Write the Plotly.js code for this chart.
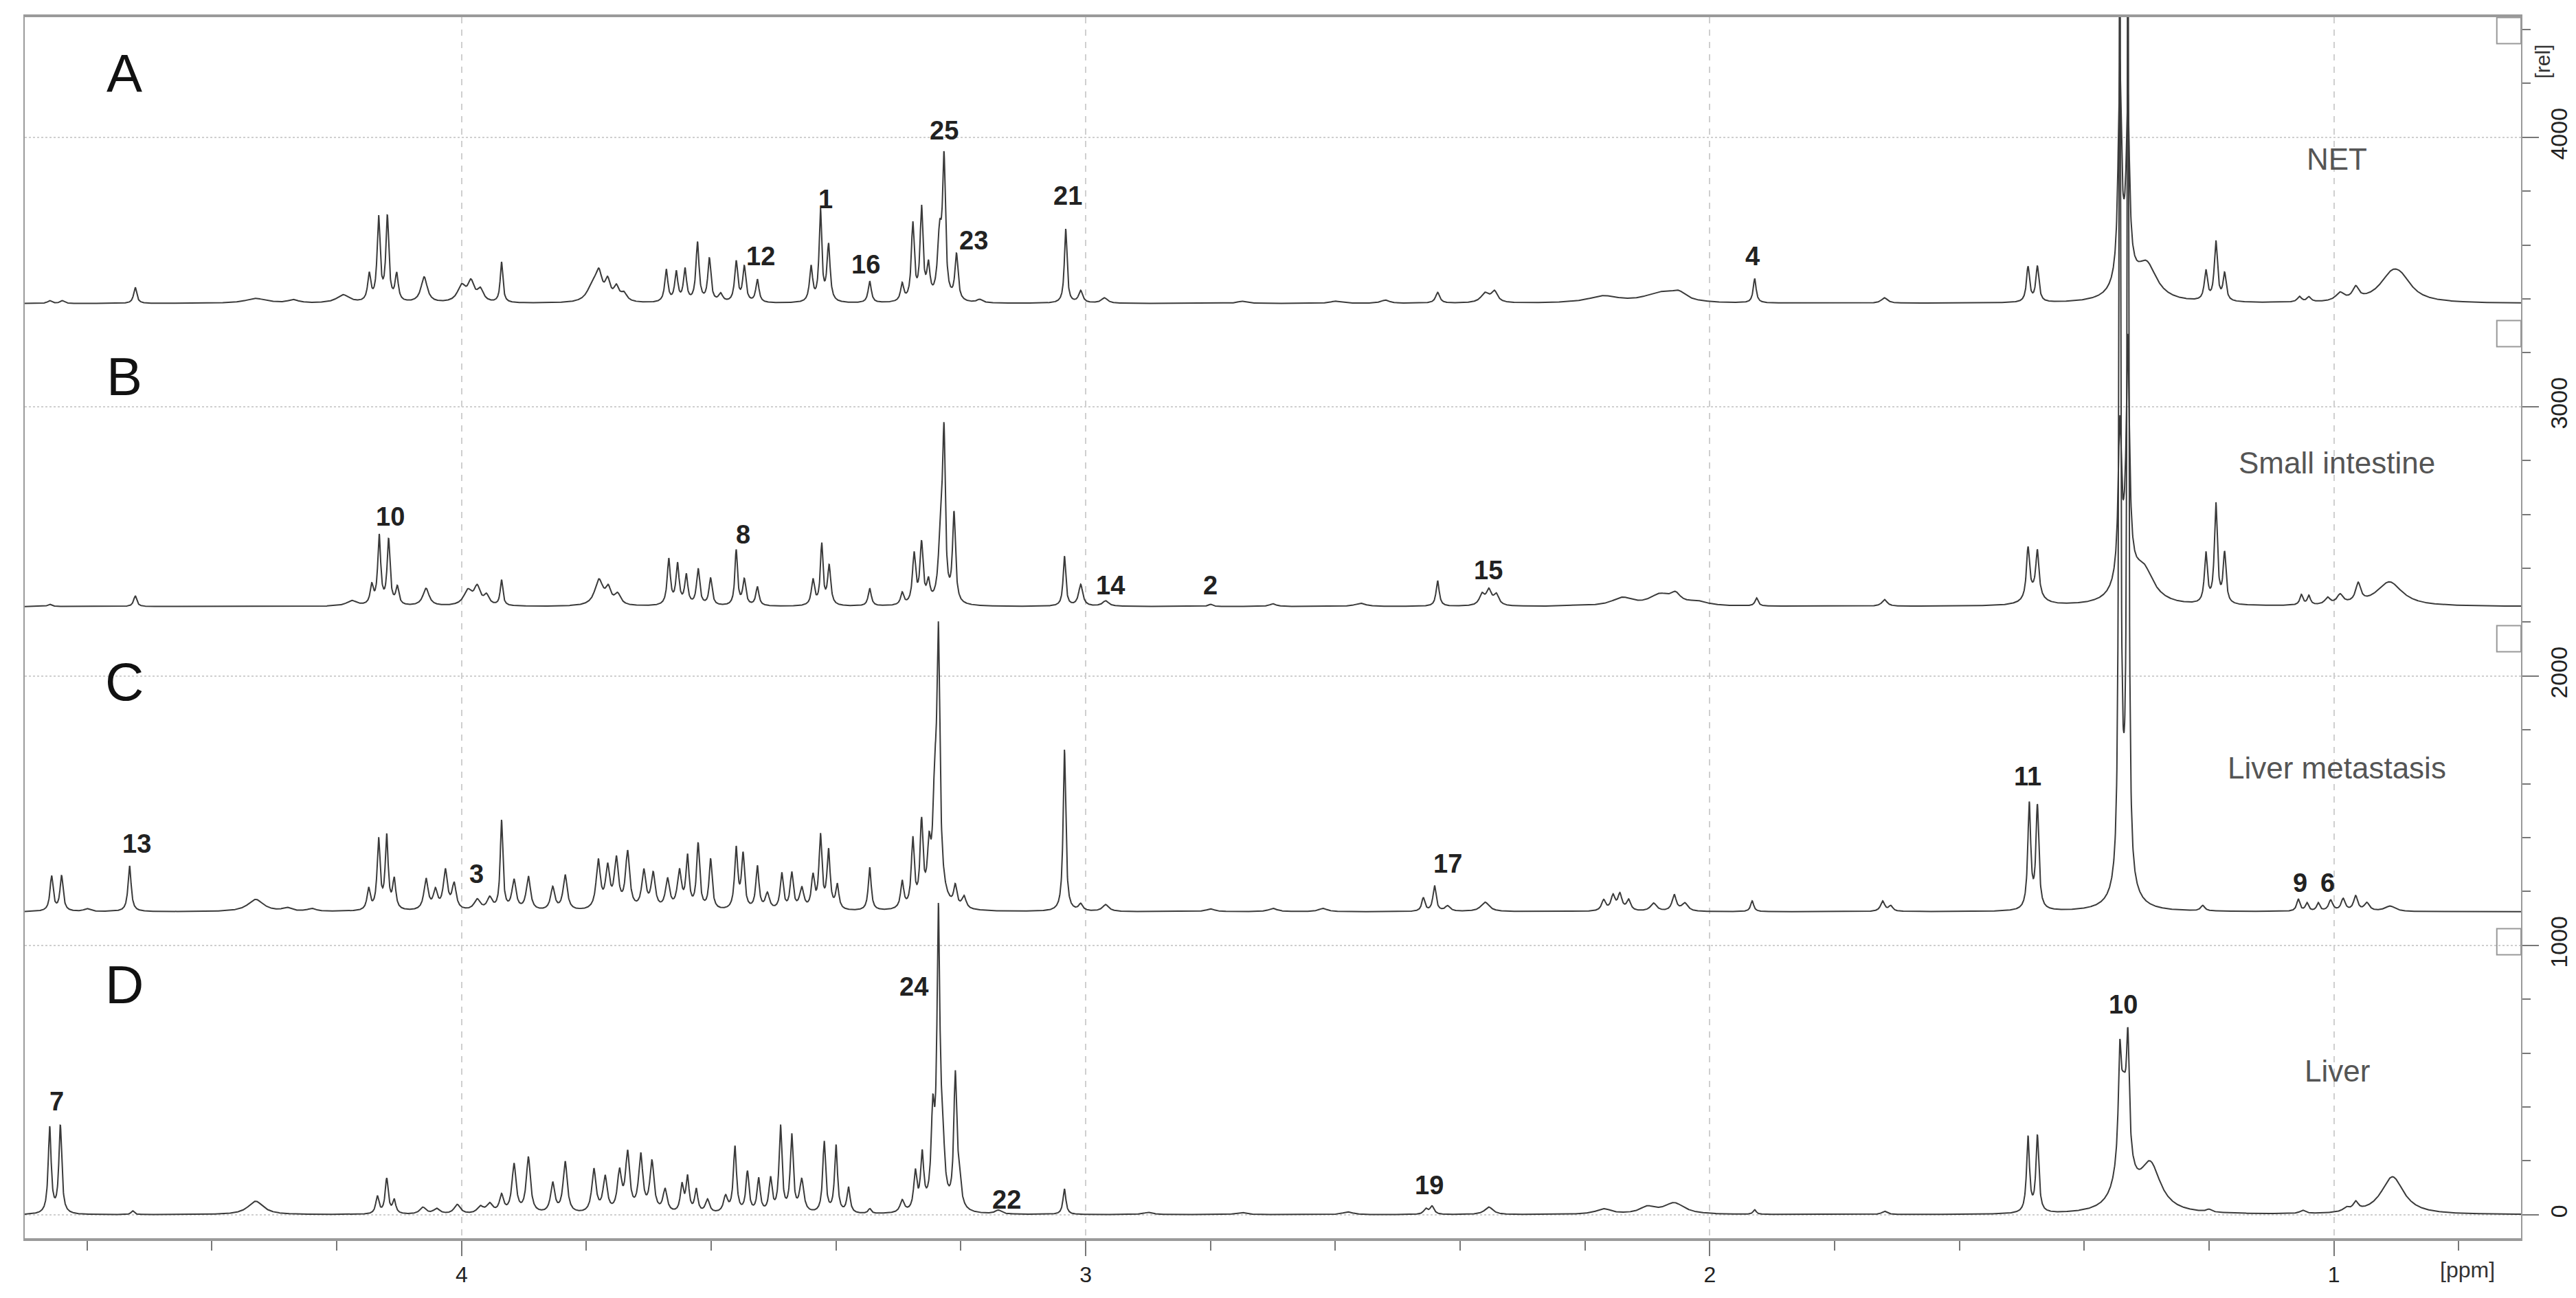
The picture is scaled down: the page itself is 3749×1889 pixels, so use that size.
<!DOCTYPE html>
<html>
<head>
<meta charset="utf-8">
<script src="https://cdn.plot.ly/plotly-3.0.1.min.js"></script>
<style>
  html, body { margin: 0; padding: 0; background: #fff; }
  #nmr { width: 3749px; height: 1889px; }
</style>
</head>
<body>
<div id="nmr"></div>
<script>
// 1H NMR spectra, stacked. Peaks: [ppm, height, half width]
var sampleNames = ['NET', 'Small intestine', 'Liver metastasis', 'Liver']
var panelLetters = ['A', 'B', 'C', 'D']
var stackOffsets = [3383, 2258, 1125, 0]

var peaksNET = [
  [4.66, 10, 0.004], [4.64, 10, 0.004], [4.523, 60, 0.003], [4.33, 18, 0.02], [4.27, 12, 0.01],
  [4.19, 30, 0.012], [4.148, 100, 0.003], [4.133, 310, 0.0028], [4.119, 310, 0.0028], [4.104, 100, 0.003],
  [4.06, 95, 0.006], [4.00, 60, 0.008], [3.985, 70, 0.006], [3.97, 45, 0.006], [3.936, 150, 0.0025],
  [3.79, 60, 0.01], [3.78, 90, 0.006], [3.766, 70, 0.005], [3.752, 50, 0.005], [3.74, 30, 0.006],
  [3.672, 120, 0.003], [3.656, 110, 0.003], [3.642, 120, 0.003], [3.622, 220, 0.003], [3.603, 160, 0.003],
  [3.585, 30, 0.004], [3.56, 150, 0.003], [3.547, 130, 0.003], [3.526, 85, 0.003],
  [3.44, 130, 0.003], [3.425, 340, 0.0025], [3.412, 210, 0.003], [3.346, 80, 0.003],
  [3.294, 65, 0.003], [3.277, 285, 0.0028], [3.263, 340, 0.0028], [3.252, 120, 0.003],
  [3.234, 230, 0.004], [3.227, 500, 0.0028], [3.207, 170, 0.003], [3.17, 12, 0.005],
  [3.032, 275, 0.0025], [3.008, 45, 0.004], [2.97, 20, 0.006], [2.75, 8, 0.008], [2.6, 8, 0.01],
  [2.52, 12, 0.008], [2.436, 40, 0.004], [2.36, 35, 0.008], [2.345, 40, 0.006],
  [2.17, 25, 0.03], [2.08, 35, 0.03], [2.05, 30, 0.015], [1.928, 90, 0.0028], [1.72, 20, 0.006],
  [1.49, 130, 0.003], [1.475, 130, 0.003], [1.343, 760, 0.003], [1.330, 600, 0.003],
  [1.335, 120, 0.015], [1.30, 130, 0.02], [1.205, 110, 0.003], [1.189, 220, 0.003], [1.175, 100, 0.003],
  [1.055, 20, 0.004], [1.04, 18, 0.004], [0.99, 30, 0.008], [0.965, 45, 0.006],
  [0.906, 100, 0.025], [0.89, 40, 0.02]
]

var peaksSmallIntestine = [
  [4.66, 8, 0.004], [4.523, 40, 0.003], [4.176, 20, 0.01],
  [4.144, 70, 0.003], [4.132, 255, 0.0028], [4.117, 240, 0.0028], [4.103, 65, 0.003],
  [4.057, 65, 0.006], [3.99, 55, 0.008], [3.975, 65, 0.006], [3.96, 35, 0.005], [3.936, 95, 0.0025],
  [3.78, 95, 0.008], [3.765, 55, 0.005], [3.75, 40, 0.006],
  [3.668, 170, 0.003], [3.654, 150, 0.003], [3.640, 110, 0.003], [3.621, 135, 0.003], [3.601, 100, 0.003],
  [3.560, 205, 0.0025], [3.547, 95, 0.003], [3.526, 70, 0.003],
  [3.437, 95, 0.003], [3.423, 225, 0.0025], [3.411, 145, 0.003], [3.346, 65, 0.003],
  [3.294, 45, 0.003], [3.275, 185, 0.003], [3.263, 220, 0.003], [3.252, 75, 0.003],
  [3.232, 280, 0.004], [3.227, 560, 0.0025], [3.211, 330, 0.0028],
  [3.034, 185, 0.0025], [3.008, 80, 0.004], [2.968, 20, 0.006], [2.80, 8, 0.004], [2.7, 10, 0.006],
  [2.56, 12, 0.01], [2.436, 95, 0.003], [2.365, 40, 0.005], [2.354, 55, 0.005], [2.342, 40, 0.005],
  [2.14, 30, 0.02], [2.08, 40, 0.02], [2.055, 35, 0.01], [2.02, 15, 0.02],
  [1.925, 30, 0.003], [1.72, 25, 0.005], [1.48, 40, 0.015], [1.49, 185, 0.003], [1.475, 165, 0.003],
  [1.343, 540, 0.003], [1.330, 820, 0.003], [1.335, 130, 0.015], [1.305, 120, 0.02],
  [1.205, 185, 0.0028], [1.189, 370, 0.0028], [1.175, 185, 0.0028],
  [1.052, 38, 0.003], [1.04, 34, 0.003], [1.01, 25, 0.005], [0.99, 35, 0.006], [0.961, 70, 0.005],
  [0.911, 90, 0.025]
]

var peaksLiverMet = [
  [4.657, 130, 0.003], [4.641, 130, 0.003], [4.60, 10, 0.006], [4.532, 170, 0.003],
  [4.33, 45, 0.015], [4.28, 12, 0.008], [4.24, 10, 0.008],
  [4.149, 80, 0.003], [4.133, 260, 0.0028], [4.12, 270, 0.0028], [4.108, 110, 0.003],
  [4.057, 115, 0.004], [4.042, 70, 0.004], [4.026, 145, 0.004], [4.012, 95, 0.004],
  [3.975, 40, 0.006], [3.955, 45, 0.005], [3.936, 330, 0.0025], [3.916, 110, 0.004], [3.893, 125, 0.004],
  [3.854, 85, 0.004], [3.834, 130, 0.004], [3.781, 180, 0.004], [3.766, 150, 0.004],
  [3.752, 180, 0.004], [3.734, 210, 0.004], [3.708, 140, 0.004], [3.693, 130, 0.004],
  [3.670, 110, 0.004], [3.651, 140, 0.004], [3.638, 190, 0.003], [3.621, 240, 0.003], [3.601, 185, 0.003],
  [3.560, 225, 0.003], [3.549, 200, 0.003], [3.526, 160, 0.003], [3.51, 60, 0.004],
  [3.487, 135, 0.003], [3.471, 135, 0.003], [3.455, 80, 0.004],
  [3.437, 120, 0.003], [3.425, 270, 0.0028], [3.412, 215, 0.003], [3.398, 90, 0.003], [3.346, 160, 0.0028],
  [3.294, 100, 0.003], [3.277, 250, 0.0028], [3.263, 300, 0.0028], [3.251, 170, 0.003], [3.242, 230, 0.003],
  [3.236, 760, 0.0025], [3.238, 280, 0.007], [3.209, 75, 0.003], [3.195, 45, 0.004],
  [3.034, 600, 0.0025], [3.008, 25, 0.004], [2.968, 25, 0.006], [2.8, 10, 0.008], [2.7, 12, 0.008],
  [2.62, 12, 0.008], [2.459, 50, 0.003], [2.441, 95, 0.003], [2.42, 20, 0.005], [2.36, 35, 0.008],
  [2.17, 40, 0.004], [2.155, 55, 0.004], [2.144, 60, 0.004], [2.13, 40, 0.004],
  [2.09, 30, 0.006], [2.057, 60, 0.004], [2.04, 30, 0.006], [1.932, 40, 0.003],
  [1.723, 38, 0.004], [1.71, 20, 0.004], [1.488, 390, 0.0028], [1.475, 380, 0.0028],
  [1.343, 4000, 0.0015], [1.330, 4000, 0.0015], [1.337, 200, 0.008], [1.335, 60, 0.02], [1.21, 20, 0.004],
  [1.057, 45, 0.003], [1.043, 30, 0.003], [1.025, 30, 0.003], [1.005, 40, 0.004],
  [0.985, 45, 0.004], [0.965, 55, 0.004], [0.947, 30, 0.005], [0.91, 20, 0.01]
]

var peaksLiver = [
  [4.660, 320, 0.0028], [4.643, 325, 0.0028], [4.527, 14, 0.003], [4.33, 50, 0.015],
  [4.135, 65, 0.003], [4.12, 130, 0.003], [4.108, 50, 0.003], [4.062, 25, 0.006], [4.04, 20, 0.006],
  [4.007, 35, 0.006], [3.97, 25, 0.006], [3.955, 35, 0.006],
  [3.936, 65, 0.004], [3.916, 180, 0.004], [3.893, 205, 0.004], [3.854, 110, 0.004], [3.834, 190, 0.004],
  [3.788, 160, 0.004], [3.77, 130, 0.004], [3.747, 145, 0.004], [3.734, 215, 0.004],
  [3.713, 210, 0.004], [3.695, 185, 0.004], [3.674, 85, 0.004],
  [3.647, 100, 0.003], [3.638, 130, 0.003], [3.624, 85, 0.003], [3.606, 50, 0.004],
  [3.577, 60, 0.004], [3.562, 245, 0.003], [3.542, 150, 0.003], [3.524, 125, 0.003], [3.505, 125, 0.003],
  [3.489, 320, 0.0028], [3.471, 285, 0.0028], [3.455, 120, 0.004],
  [3.419, 265, 0.0028], [3.400, 250, 0.0028], [3.380, 95, 0.003], [3.346, 18, 0.003],
  [3.294, 45, 0.004], [3.273, 140, 0.003], [3.262, 200, 0.003], [3.245, 300, 0.003],
  [3.236, 850, 0.0025], [3.235, 250, 0.006], [3.229, 150, 0.003], [3.209, 480, 0.0028], [3.203, 100, 0.004],
  [3.14, 14, 0.006], [3.034, 95, 0.0028], [2.9, 8, 0.01], [2.75, 8, 0.01], [2.58, 10, 0.01],
  [2.455, 20, 0.004], [2.445, 30, 0.004], [2.354, 28, 0.008],
  [2.17, 20, 0.015], [2.10, 25, 0.015], [2.057, 42, 0.02], [1.928, 17, 0.003], [1.72, 12, 0.005],
  [1.490, 280, 0.0028], [1.475, 282, 0.0028], [1.343, 330, 0.0025], [1.330, 380, 0.0025],
  [1.337, 330, 0.008], [1.335, 80, 0.02], [1.294, 170, 0.02], [1.2, 10, 0.005], [1.05, 12, 0.005],
  [0.98, 15, 0.006], [0.965, 32, 0.005], [0.906, 140, 0.022]
]

// peak assignment numbers: [label, ppm, height above that spectrum's baseline]
var labelsNET = [['1', 3.417, 387], ['12', 3.521, 176], ['16', 3.352, 145], ['25', 3.227, 643],
  ['23', 3.179, 234], ['21', 3.029, 400], ['4', 1.932, 176]]
var labelsSmallIntestine = [['10', 4.114, 334], ['8', 3.549, 268], ['14', 2.960, 79], ['2', 2.80, 79], ['15', 2.355, 135]]
var labelsLiverMet = [['13', 4.52, 253], ['3', 3.976, 140], ['17', 2.42, 179], ['11', 1.49, 503],
  ['9', 1.054, 107], ['6', 1.01, 107]]
var labelsLiver = [['7', 4.649, 421], ['24', 3.275, 847], ['22', 3.127, 56], ['19', 2.45, 110], ['10', 1.338, 781]]

var allPeaks = [peaksNET, peaksSmallIntestine, peaksLiverMet, peaksLiver]
var allLabels = [labelsNET, labelsSmallIntestine, labelsLiverMet, labelsLiver]

var ppm_lo = 0.70, ppm_hi = 4.70, step = 0.0004
var font = 'Liberation Sans, Arial, sans-serif'

function spectrum(peaks, offset) {
  var xs = [], ys = []
  for (var x = ppm_hi; x >= ppm_lo; x -= step) {
    var y = 0
    for (var i = 0; i < peaks.length; i++) {
      var d = x - peaks[i][0], w = peaks[i][2]
      y += peaks[i][1] * w * w / (d * d + w * w)
    }
    xs.push(x)
    ys.push(y + offset)
  }
  return {x: xs, y: ys}
}

var traces = []
var annotations = []
var shapes = []
allPeaks.forEach(function(peaks, k) {
  var s = spectrum(peaks, stackOffsets[k])
  traces.push({
    x: s.x, y: s.y, mode: 'lines', type: 'scatter', name: sampleNames[k],
    line: {color: '#3a3a3a', width: 2}, hoverinfo: 'skip', showlegend: false
  })
  annotations.push({text: panelLetters[k], x: 4.54, y: stackOffsets[k] + 855, showarrow: false,
    font: {family: font, size: 78, color: '#111'}})
  annotations.push({text: sampleNames[k], x: 0.995, y: stackOffsets[k] + 535, showarrow: false,
    font: {family: font, size: 44, color: '#555'}})
  allLabels[k].forEach(function(l) {
    annotations.push({text: '<b>' + l[0] + '</b>', x: l[1], y: stackOffsets[k] + l[2], showarrow: false,
      font: {family: font, size: 38, color: '#222'}})
  })
  // little scale box at the right of each spectrum
  shapes.push({type: 'rect', xref: 'paper', yref: 'y', x0: 0.9903, x1: 1.0,
    y0: stackOffsets[k] + 965, y1: stackOffsets[k] + 1062, line: {color: '#999', width: 2}})
})

annotations.push({text: '[rel]', xref: 'paper', yref: 'paper', x: 1.0137, y: 0.979, textangle: -90,
  showarrow: false, font: {family: font, size: 30, color: '#333'}})
annotations.push({text: '[ppm]', xref: 'paper', yref: 'paper', x: 0.99, y: -0.026, yanchor: 'middle',
  showarrow: false, font: {family: font, size: 32, color: '#333'}})

var layout = {
  width: 3749, height: 1889,
  margin: {l: 36, r: 80, t: 25, b: 87},
  paper_bgcolor: '#fff', plot_bgcolor: '#fff',
  showlegend: false,
  xaxis: {
    range: [ppm_hi, 0.70], tick0: 0, dtick: 1,
    ticks: 'outside', ticklen: 22, tickwidth: 2, tickcolor: '#777',
    minor: {dtick: 0.2, tick0: 0, ticks: 'outside', ticklen: 14, tickwidth: 2, tickcolor: '#777', showgrid: false},
    showgrid: true, gridcolor: '#cfcfcf', gridwidth: 2, griddash: 'dash',
    showline: true, mirror: true, linecolor: '#9a9a9a', linewidth: 4,
    zeroline: false,
    tickfont: {family: font, size: 32, color: '#222'}
  },
  yaxis: {
    side: 'right', range: [-87, 4446], tick0: 0, dtick: 1000,
    ticks: 'outside', ticklen: 24, tickwidth: 2, tickcolor: '#777', tickangle: -90,
    minor: {dtick: 200, tick0: 0, ticks: 'outside', ticklen: 12, tickwidth: 2, tickcolor: '#777', showgrid: false},
    showgrid: true, gridcolor: '#cfcfcf', gridwidth: 2, griddash: 'dot',
    showline: true, mirror: true, linecolor: '#9a9a9a', linewidth: 2,
    zeroline: false,
    tickfont: {family: font, size: 34, color: '#222'}
  },
  annotations: annotations,
  shapes: shapes
}

Plotly.newPlot('nmr', traces, layout, {displayModeBar: false, staticPlot: true})
</script>
</body>
</html>
